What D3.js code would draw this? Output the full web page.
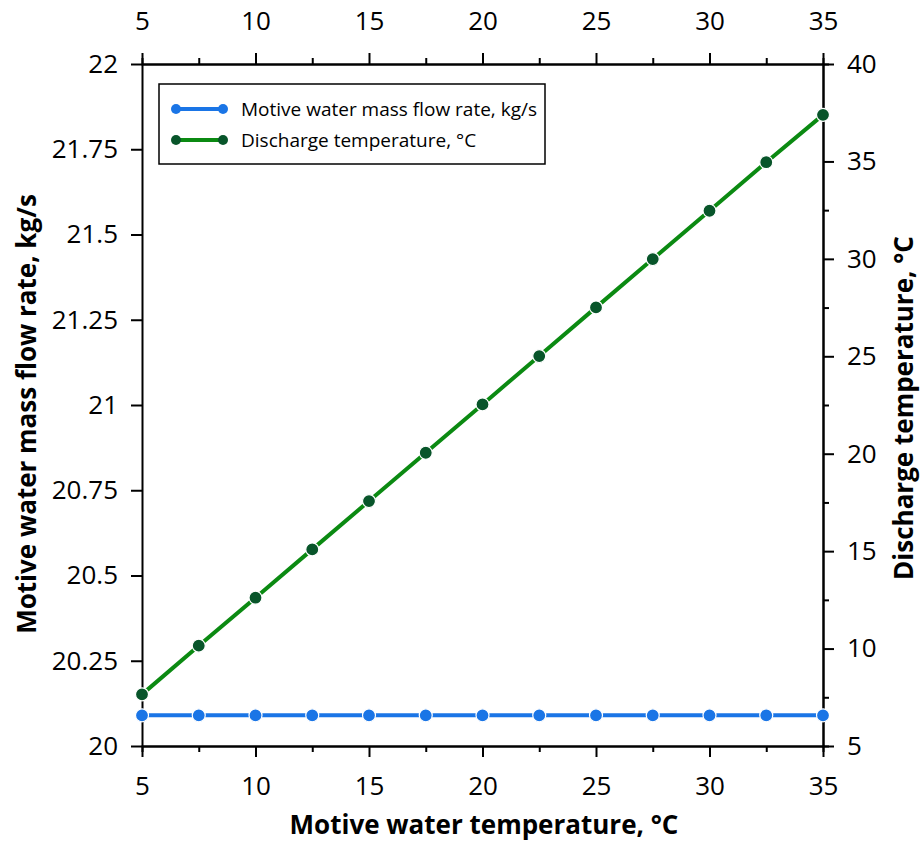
<!DOCTYPE html>
<html><head><meta charset="utf-8">
<script src="https://cdn.jsdelivr.net/npm/d3@7/dist/d3.min.js"></script>
<style>body{margin:0;background:#fff}svg{display:block}text{font-family:"Open Sans","Noto Sans",sans-serif}</style>
</head><body>
<svg id="c" width="921" height="843"></svg>
<script>
const temps = [5,7.5,10,12.5,15,17.5,20,22.5,25,27.5,30,32.5,35];
const massFlow = [20.09,20.09,20.09,20.09,20.09,20.09,20.09,20.09,20.09,20.09,20.09,20.09,20.09];
const discharge = [7.65,10.15,12.61,15.09,17.57,20.05,22.53,25.01,27.51,29.99,32.47,34.96,37.39];
const xTicks = [5,10,15,20,25,30,35];
const xMinor = [7.5,12.5,17.5,22.5,27.5,32.5];
const yLeftTicks = [20,20.25,20.5,20.75,21,21.25,21.5,21.75,22];
const yLeftLabels = ["20","20.25","20.5","20.75","21","21.25","21.5","21.75","22"];
const yRightTicks = [5,10,15,20,25,30,35,40];
const yRightMinor = [7.5,12.5,17.5,22.5,27.5,32.5,37.5];
const seriesNames = ["Motive water mass flow rate, kg/s","Discharge temperature, °C"];

const L=142,R=823,T=64,B=746;
const svg=d3.select("#c");
const x=d3.scaleLinear().domain([5,35]).range([L,R]);
const yl=d3.scaleLinear().domain([20,22]).range([B,T]);
const yr=d3.scaleLinear().domain([5,40]).range([B,T]);

const fs=26;
function styleAxis(g){g.select(".domain").attr("stroke","#000").attr("stroke-width",2);
  g.selectAll(".tick line").attr("stroke","#000").attr("stroke-width",2);
  g.selectAll("text").attr("font-size",fs).attr("fill","#000");}

const gb=svg.append("g").attr("transform",`translate(0,${B})`);
gb.call(d3.axisBottom(x).tickValues(xMinor).tickSize(6).tickFormat("")).call(styleAxis);
const gb2=svg.append("g").attr("transform",`translate(0,${B})`);
gb2.call(d3.axisBottom(x).tickValues(xTicks).tickSize(11).tickSizeOuter(0).tickPadding(20).tickFormat(d3.format("d"))).call(styleAxis);
const gt=svg.append("g").attr("transform",`translate(0,${T})`);
gt.call(d3.axisTop(x).tickValues(xMinor).tickSize(6).tickFormat("")).call(styleAxis);
const gt2=svg.append("g").attr("transform",`translate(0,${T})`);
gt2.call(d3.axisTop(x).tickValues(xTicks).tickSize(11).tickSizeOuter(0).tickPadding(23).tickFormat(d3.format("d"))).call(styleAxis);
const gl=svg.append("g").attr("transform",`translate(${L},0)`);
gl.call(d3.axisLeft(yl).tickValues(yLeftTicks).tickSize(11).tickSizeOuter(0).tickPadding(13).tickFormat((d,i)=>yLeftLabels[i])).call(styleAxis);
const gr=svg.append("g").attr("transform",`translate(${R},0)`);
gr.call(d3.axisRight(yr).tickValues(yRightMinor).tickSize(6).tickFormat("")).call(styleAxis);
const gr2=svg.append("g").attr("transform",`translate(${R},0)`);
gr2.call(d3.axisRight(yr).tickValues(yRightTicks).tickSize(11).tickSizeOuter(0).tickPadding(13).tickFormat(d3.format("d"))).call(styleAxis);

const blue="#1a75e6", green="#0b8a12", darkGreen="#08552a";
const lineL=d3.line().x((d,i)=>x(temps[i])).y(d=>yl(d));
const lineR=d3.line().x((d,i)=>x(temps[i])).y(d=>yr(d));
svg.append("path").datum(massFlow).attr("d",lineL).attr("fill","none").attr("stroke",blue).attr("stroke-width",4);
svg.selectAll(".pb").data(massFlow).join("circle").attr("cx",(d,i)=>x(temps[i])).attr("cy",d=>yl(d)).attr("r",6.5).attr("fill",blue).attr("stroke","#fff").attr("stroke-width",1.2);
svg.append("path").datum(discharge).attr("d",lineR).attr("fill","none").attr("stroke",green).attr("stroke-width",4);
svg.selectAll(".pg").data(discharge).join("circle").attr("cx",(d,i)=>x(temps[i])).attr("cy",d=>yr(d)).attr("r",6.5).attr("fill",darkGreen).attr("stroke","#fff").attr("stroke-width",1.2);

const lg=svg.append("g");
lg.append("rect").attr("x",159).attr("y",84).attr("width",386).attr("height",80).attr("fill","#fff").attr("stroke","#000").attr("stroke-width",1.5);
[[blue,blue],[green,darkGreen]].forEach((c,i)=>{
  const yy=109+i*31;
  lg.append("line").attr("x1",176).attr("x2",223).attr("y1",yy).attr("y2",yy).attr("stroke",c[0]).attr("stroke-width",4);
  [176,223].forEach(cx=>lg.append("circle").attr("cx",cx).attr("cy",yy).attr("r",5).attr("fill",c[1]));
  lg.append("text").attr("x",241).attr("y",yy).attr("dy","0.35em").attr("font-size",19).text(seriesNames[i]);
});

svg.append("text").attr("x",484).attr("y",834).attr("text-anchor","middle").attr("font-size",26).attr("font-weight","bold").text("Motive water temperature, °C");
svg.append("text").attr("transform",`translate(36,414) rotate(-90)`).attr("text-anchor","middle").attr("font-size",26).attr("font-weight","bold").text("Motive water mass flow rate, kg/s");
svg.append("text").attr("transform",`translate(913,408) rotate(-90)`).attr("text-anchor","middle").attr("font-size",26).attr("font-weight","bold").text("Discharge temperature, °C");
</script>
</body></html>
